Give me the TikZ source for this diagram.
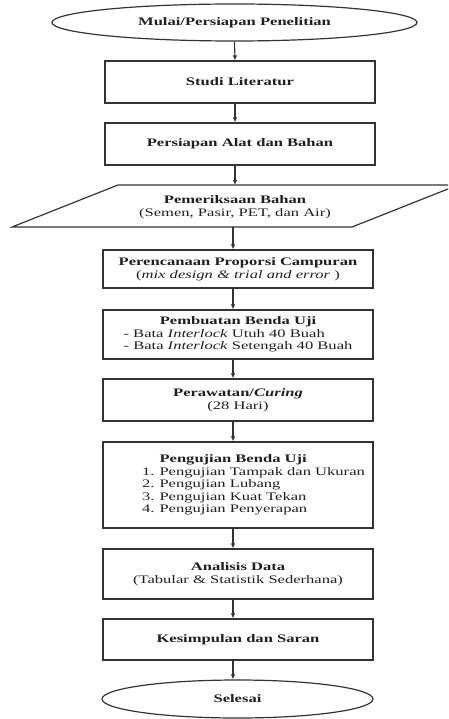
\documentclass[tikz,border=0pt]{standalone}
\usepackage{fontspec}
\setmainfont[FakeStretch=1.44]{Liberation Serif}
\usetikzlibrary{shapes.geometric,arrows.meta}
\begin{document}
\begin{tikzpicture}[x=1pt,y=-1pt,
  every node/.style={font=\fontsize{11.5}{12.5}\selectfont, text=black!88},
  box/.style={draw=black!80, line width=1.2pt, rectangle, minimum width=270pt, inner sep=0pt, align=center},
  term/.style={draw=black!80, line width=1.2pt, ellipse, inner sep=0pt, align=center},
  para/.style={draw=black!80, line width=1.2pt},
  flow/.style={draw=black!80, line width=1.1pt, -{Latex[length=5pt,width=4.5pt]}}]
\useasboundingbox (0,0) rectangle (448,719);

\node[term, minimum width=365pt, minimum height=37pt] (start) at (234.5,22.5) {\textbf{Mulai/Persiapan Penelitian}};
\node[box, minimum height=42pt] (lit) at (240,82) {\textbf{Studi Literatur}};
\node[box, minimum height=42pt] (alat) at (240,144) {\textbf{Persiapan Alat dan Bahan}};

\begin{scope}
\clip (0,0) rectangle (448,719);
\coordinate (pbl) at (12,227);
\coordinate (pbr) at (352,227);
\coordinate (ptr) at (458,185);
\coordinate (ptl) at (118,185);
\draw[para] (pbl) -- (pbr) -- (ptr) -- (ptl) -- cycle;
\end{scope}
\coordinate (ptop) at (235,185);
\coordinate (pbot) at (233,227);
\node[align=center, inner sep=0pt] (periksa) at (235,207) {\textbf{Pemeriksaan Bahan}\\(Semen, Pasir, PET, dan Air)};

\node[box, minimum height=38pt] (plan) at (238,269) {\textbf{Perencanaan Proporsi Campuran}\\(\textit{mix design \& trial and error} )};
\node[box, minimum height=49pt] (make) at (238,334.5) {\begin{tabular}{@{}l@{}}\multicolumn{1}{c}{\textbf{Pembuatan Benda Uji}}\\- Bata \textit{Interlock} Utuh 40 Buah\\- Bata \textit{Interlock} Setengah 40 Buah\end{tabular}};
\node[box, minimum height=42pt] (cure) at (238,400) {\textbf{Perawatan/\textit{Curing}}\\(28 Hari)};
\node[box, minimum height=86pt] (test) at (238,485) {\hspace*{31pt}\begin{tabular}{@{}l@{\hspace{5pt}}l@{}}
 & \textbf{Pengujian Benda Uji}\\
1. & Pengujian Tampak dan Ukuran\\
2. & Pengujian Lubang\\
3. & Pengujian Kuat Tekan\\
4. & Pengujian Penyerapan\end{tabular}};
\node[box, minimum height=50pt] (anal) at (238,574) {\textbf{Analisis Data}\\(Tabular \& Statistik Sederhana)};
\node[box, minimum height=41pt] (kes) at (238,639.5) {\textbf{Kesimpulan dan Saran}};
\node[term, minimum width=271pt, minimum height=38pt] (fin) at (237.5,699) {\textbf{Selesai}};

\draw[flow] (start.south) -- ([xshift=-5pt]lit.north);
\draw[flow] ([xshift=-5pt]lit.south) -- ([xshift=-5pt]alat.north);
\draw[flow] ([xshift=-5pt]alat.south) -- (ptop);
\draw[flow] (pbot) -- ([xshift=-5pt]plan.north);
\draw[flow] ([xshift=-5pt]plan.south) -- ([xshift=-5pt]make.north);
\draw[flow] ([xshift=-5pt]make.south) -- ([xshift=-5pt]cure.north);
\draw[flow] ([xshift=-5pt]cure.south) -- ([xshift=-5pt]test.north);
\draw[flow] ([xshift=-5pt]test.south) -- ([xshift=-5pt]anal.north);
\draw[flow] ([xshift=-5pt]anal.south) -- ([xshift=-5pt]kes.north);
\draw[flow] ([xshift=-5pt]kes.south) -- ([xshift=-4.5pt]fin.north);
\end{tikzpicture}
\end{document}
